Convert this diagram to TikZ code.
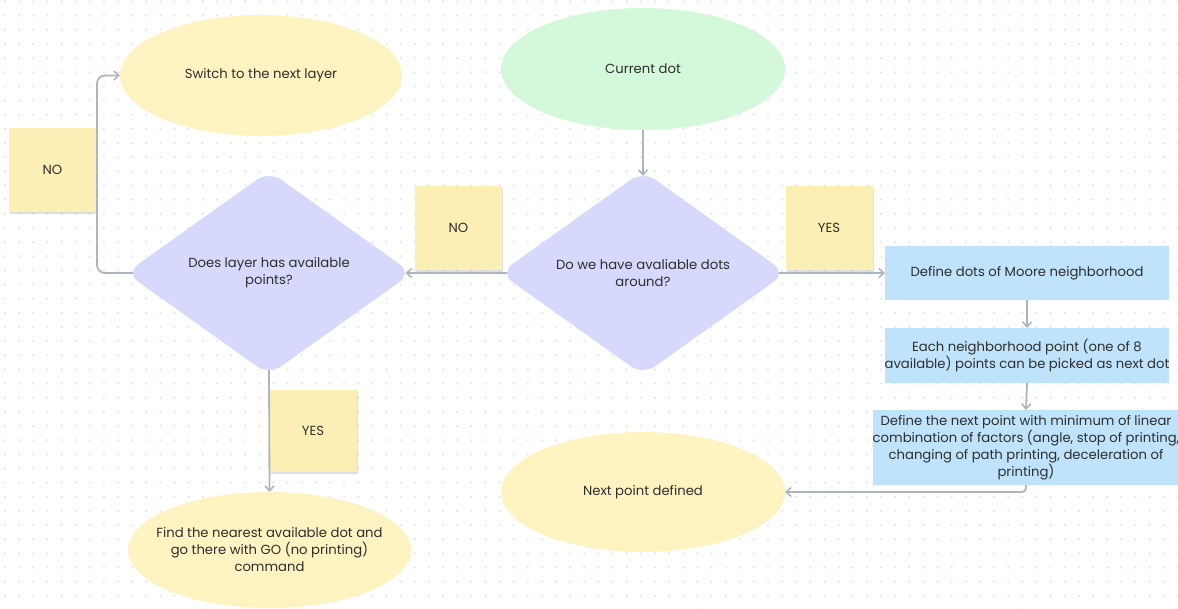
\documentclass[tikz,border=0pt]{standalone}
\usepackage{fontspec}
\setmainfont{Poppins}
\usetikzlibrary{shapes.geometric,arrows.meta,shadows}
\definecolor{textc}{HTML}{2E2E2E}
\definecolor{yellc}{HTML}{FFF3C2}
\definecolor{notec}{HTML}{FCEFB5}
\definecolor{greenc}{HTML}{D4F9DA}
\definecolor{diac}{HTML}{D6D9FB}
\definecolor{bluec}{HTML}{BFE3FB}
\definecolor{linec}{HTML}{ACB6C0}
\definecolor{dotc}{HTML}{DEE1E9}
\pgfdeclarelayer{grid}
\pgfdeclarelayer{background}
\pgfsetlayers{grid,background,main}
\begin{document}
\begin{tikzpicture}[x=1pt,y=-1pt,
  txt/.style={font=\fontsize{13.2}{17}\selectfont, text=textc, align=center},
  ell/.style={ellipse, fill=#1, inner sep=0pt, outer sep=0pt, txt},
  dia/.style={diamond, fill=diac, rounded corners=15pt, minimum width=286pt, minimum height=204pt, inner sep=0pt, outer sep=0pt, txt},
  note/.style={rectangle, fill=notec, minimum width=87pt, minimum height=84pt, inner sep=0pt, txt,
    drop shadow={shadow xshift=1pt, shadow yshift=-2pt, opacity=0.12, fill=black}},
  box/.style={rectangle, fill=bluec, inner sep=0pt, outer sep=0pt, txt},
  conn/.style={draw=linec, line width=1.8pt, -{Straight Barb[length=5pt,width=9pt,line width=1.6pt]}},
  fromdia/.style={shorten <=-10pt}
]
\useasboundingbox (0,0) rectangle (1178,609);
\begin{pgfonlayer}{grid}
\fill[white] (0,0) rectangle (1178,609);
\foreach \i in {0,...,83} {\foreach \j in {0,...,43} {\fill[dotc] ({5+14.13*\i},{1.5+14.15*\j}) circle (1.1pt);}}
\end{pgfonlayer}

% nodes
\node[ell=yellc, minimum width=282pt, minimum height=121pt] (sw) at (261,75.5) {Switch to the next layer};
\node[ell=greenc, minimum width=284pt, minimum height=122pt] (cur) at (643,69) {Current dot};
\node[dia] (d1) at (269,273) {Does layer has available\\points?};
\node[dia] (d2) at (643,273) {Do we have avaliable dots\\around?};
\node[box, minimum width=284pt, minimum height=54pt] (b1) at (1027,273) {Define dots of Moore neighborhood};
\node[box, minimum width=284pt, minimum height=55pt] (b2) at (1027,355.5) {Each neighborhood point (one of 8\\available) points can be picked as next dot};
\node[box, minimum width=303pt, minimum height=75pt] (b3) at (1026,447.5) {Define the next point with minimum of linear\\combination of factors (angle, stop of printing,\\changing of path printing, deceleration of\\printing)};
\node[ell=yellc, minimum width=284pt, minimum height=120pt] (np) at (643,492) {Next point defined};
\node[ell=yellc, minimum width=283pt, minimum height=116pt,
  label={[txt]center:Find the nearest available dot and\\go there with GO (no printing)\\command}] (fd) at (269.5,550) {};

\coordinate (c1) at (97,273);

\begin{pgfonlayer}{background}
\node[note] (n1) at (52.5,170) {NO};
\node[note] (n2) at (458.5,228) {NO};
\node[note] (n3) at (829,228) {YES};
\node[note, minimum height=82pt] (n4) at (313,431) {YES};

\draw[conn, shorten >=-5pt] (cur.south) -- (d2.north);
\draw[conn, fromdia, shorten >=-6.5pt] (d2.west) -- (d1.east);
\draw[conn, fromdia, rounded corners=8pt] (d1.west) -- (c1) |- (sw.west);
\draw[conn, fromdia] (d2.east) -- (b1.west);
\draw[conn] (b1.south) -- (b2.north);
\draw[conn] (b2.south) -- (b3.north);
\draw[conn, rounded corners=4pt] (b3.south) |- (np.east);
\draw[conn, fromdia] (d1.south) -- (fd.north);
\end{pgfonlayer}
\end{tikzpicture}
\end{document}
